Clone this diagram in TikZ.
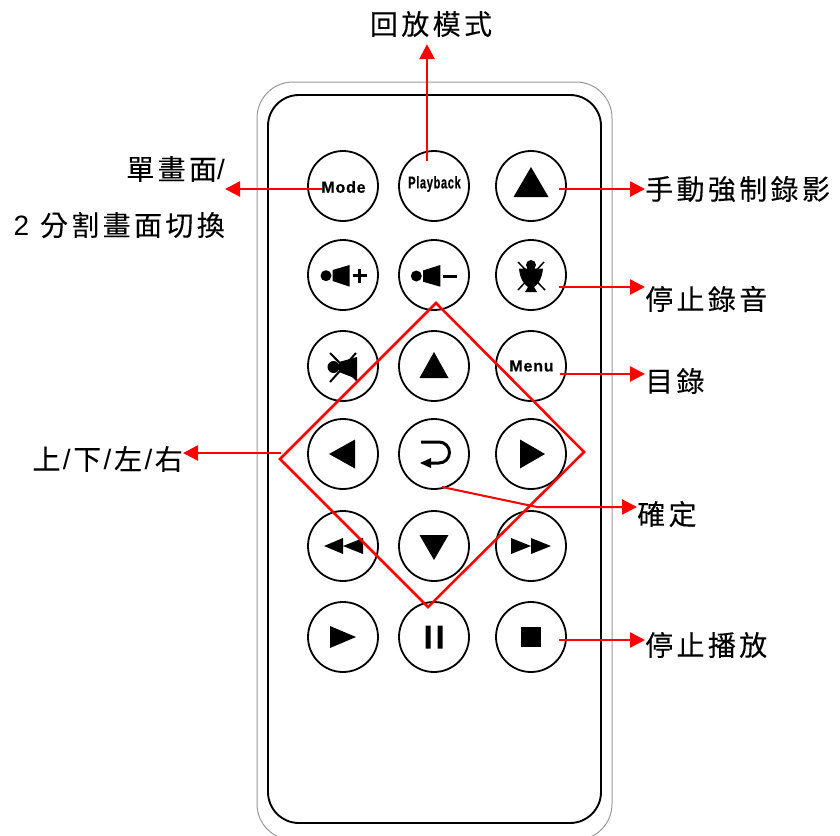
\documentclass[tikz,border=0pt]{standalone}
\usepackage{fontspec}
\setmainfont{Liberation Sans}
\newfontfamily\cjk[LetterSpace=12,FakeBold=0.15]{Noto Sans CJK TC}
\newfontfamily\cjksingle[FakeBold=0.15]{Noto Sans CJK TC}
\newfontfamily\keyfont[LetterSpace=5,FakeBold=0.4]{Liberation Sans Bold}
\usetikzlibrary{arrows.meta}
\newcommand{\dm}{70pt}
\newcommand{\slsh}{\hspace{2.5pt}/\hspace{2.5pt}}

\begin{document}
\begin{tikzpicture}[x=1pt,y=-1pt,
    btn/.style={draw, circle, minimum size=\dm, inner sep=0pt, line width=1.8pt},
    keytxt/.style={inner sep=0pt, font=\fontsize{16}{16}\selectfont\keyfont},
    lbl/.style={inner sep=0pt, font=\fontsize{28}{32}\selectfont},
    redline/.style={draw=red, line width=2.5pt},
    conn/.style={redline, -{Triangle[length=15pt,width=15pt]}},
    icon/.style={fill=black}]
    \useasboundingbox (0,0) rectangle (840,835);

    % Body
    \begin{scope}
        \clip (0,0) rectangle (840,835);
        \draw[gray!80, line width=1pt, rounded corners=36pt] (257,82) rectangle (612,840);
    \end{scope}
    \draw[line width=1.9pt, rounded corners=31pt] (268,95) rectangle (601,823);

    % First row
    \node[btn] (btn-1-1) at (343,186) {};
    \node[btn] (btn-1-2) at (434,186) {};
    \node[btn] (btn-1-3) at (531,186) {};
    % Second row
    \node[btn] (btn-2-1) at (343,275) {};
    \node[btn] (btn-2-2) at (434,275) {};
    \node[btn] (btn-2-3) at (531,275) {};
    % Third row
    \node[btn] (btn-3-1) at (343,366) {};
    \node[btn] (btn-3-2) at (434,366) {};
    \node[btn] (btn-3-3) at (531,366) {};
    % Fourth row
    \node[btn] (btn-4-1) at (343,454) {};
    \node[btn] (btn-4-2) at (434,454) {};
    \node[btn] (btn-4-3) at (531,454) {};
    % Fifth row
    \node[btn] (btn-5-1) at (343,546) {};
    \node[btn] (btn-5-2) at (434,546) {};
    \node[btn] (btn-5-3) at (531,546) {};
    % Sixth row
    \node[btn] (btn-6-1) at (343,637) {};
    \node[btn] (btn-6-2) at (434,637) {};
    \node[btn] (btn-6-3) at (531,637) {};

    % Key texts
    \node[keytxt] (txt-mode) at (343.5,187) {Mode};
    \node[keytxt] (txt-play) at (434.5,184) {\scalebox{0.66}[1]{\fontsize{17}{17}\selectfont Playback}};
    \node[keytxt] (txt-menu) at (531.5,366) {Menu};

    % Triangles
    \fill[icon, shift={(btn-1-3.center)}] (0,-19) -- (17.5,11) -- (-17.5,11) -- cycle;
    \fill[icon, shift={(btn-3-2.center)}] (0,-14) -- (14.5,12) -- (-14.5,12) -- cycle;
    \fill[icon, shift={(btn-4-1.center)}] (-14,0) -- (12,-14.5) -- (12,14.5) -- cycle;
    \fill[icon, shift={(btn-4-3.center)}] (14,0) -- (-11,-14.5) -- (-11,14.5) -- cycle;
    \fill[icon, shift={(btn-5-2.center)}] (0,14) -- (-14.5,-11) -- (14.5,-11) -- cycle;
    \fill[icon, shift={(btn-5-1.center)}] (-19,0) -- (0,-8) -- (0,8) -- cycle (0,0) -- (20,-8) -- (20,8) -- cycle;
    \fill[icon, shift={(btn-5-3.center)}] (0,0) -- (-20,-8) -- (-20,8) -- cycle (20,0) -- (0,-8) -- (0,8) -- cycle;
    \fill[icon, shift={(btn-6-1.center)}] (13,0) -- (-13,-11) -- (-13,11) -- cycle;
    \fill[icon, shift={(btn-6-2.center)}] (-8.5,-11.5) rectangle (-3.5,11.5) (3.5,-11.5) rectangle (8.5,11.5);
    \fill[icon, shift={(btn-6-3.center)}] (-10,-10) rectangle (10,10);

    % Enter key
    \draw[line width=3pt, shift={(btn-4-2.center)}] (-13,-12) -- (5,-12) arc[start angle=-90, end angle=90, radius=10.5] -- (-6,9);
    \fill[icon, shift={(btn-4-2.center)}] (-14,9) -- (-3,4) -- (-3,14) -- cycle;

    % Volume keys
    \fill[icon, shift={(btn-2-1.center)}] (-17,0.7) circle[radius=5.5] (-10.3,-5) -- (6.7,-10) -- (6.7,11.7) -- (-10.3,6) -- cycle;
    \draw[line width=3pt, shift={(btn-2-1.center)}] (9.7,0.7) -- (23.7,0.7) (16.7,-6.3) -- (16.7,7.7);
    \fill[icon, shift={(btn-2-2.center)}] (-17.7,1) circle[radius=5.5] (-11,-4.5) -- (6.3,-10) -- (6.3,11.7) -- (-11,6.7) -- cycle;
    \draw[line width=3pt, shift={(btn-2-2.center)}] (9,1) -- (23,1);

    % Mic off
    \fill[icon, shift={(btn-2-3.center)}] (0,-10) circle[radius=5]
        (-12,-6.5) -- (12,-6.5) .. controls (11,5) and (6,10) .. (3,12) -- (6,17) -- (-6,17) -- (-3,12) .. controls (-6,10) and (-11,5) .. (-12,-6.5) -- cycle;
    \draw[line width=1.5pt, shift={(btn-2-3.center)}] (-13,-13) -- (14,15) (13,-13) -- (-13,15);

    % Speaker off
    \fill[icon, shift={(btn-3-1.center)}] (-9.5,1) circle[radius=6] (-4,-4) -- (14,-9) -- (14,13) -- (-4,6) -- cycle;
    \draw[line width=2pt, shift={(btn-3-1.center)}] (-13,-13) -- (14,14.5) (13,-13) -- (-13,16);

    % Labels
    \node[lbl, anchor=center] (lbl-play) at (431,24) {\cjk 回放模式};
    \node[lbl, anchor=east] (lbl-mode) at (225,169) {{\cjk 單畫面}/};
    \node[lbl, anchor=east] (lbl-split) at (225,225) {2\hspace{3pt} {\cjk 分割畫面切換}};
    \node[lbl, anchor=west] (lbl-rec) at (645,189) {\cjk 手動強制錄影};
    \node[lbl, anchor=west] (lbl-mic) at (645,299) {\cjk 停止錄音};
    \node[lbl, anchor=west] (lbl-menu) at (645,381) {\cjk 目錄};
    \node[lbl, anchor=east] (lbl-dir) at (183,459) {{\cjksingle 上}\slsh{\cjksingle 下}\slsh{\cjksingle 左}\slsh{\cjksingle 右}};
    \node[lbl, anchor=west] (lbl-ok) at (637,514) {\cjk 確定};
    \node[lbl, anchor=west] (lbl-stop) at (645,645) {\cjk 停止播放};

    % Connector start points
    \coordinate (from-play) at (427,161);
    \coordinate (from-mode) at (322,189);
    \coordinate (from-rec) at (559,189);
    \coordinate (from-mic) at (559,287);
    \coordinate (from-menu) at (560,374);
    \coordinate (from-dir) at (281,453);
    \coordinate (from-ok) at (442,487);
    \coordinate (bend-ok) at (537,507);
    \coordinate (from-stop) at (559,640);

    % Connectors
    \draw[conn, shorten >=7pt] (from-play) -- (from-play |- lbl-play.south);
    \draw[conn] (from-mode) -- (from-mode -| lbl-mode.east);
    \draw[conn] (from-rec) -- (from-rec -| lbl-rec.west);
    \draw[conn] (from-mic) -- (from-mic -| lbl-mic.west);
    \draw[conn] (from-menu) -- (from-menu -| lbl-menu.west);
    \draw[conn] (from-dir) -- (from-dir -| lbl-dir.east);
    \draw[conn, line width=2pt] (from-ok) -- (bend-ok) -- (bend-ok -| lbl-ok.west);
    \draw[conn] (from-stop) -- (from-stop -| lbl-stop.west);

    % Diamond
    \coordinate (dia-n) at (436,303);
    \coordinate (dia-e) at (584,452);
    \coordinate (dia-s) at (428,607);
    \coordinate (dia-w) at (280,459);
    \draw[redline, line join=miter] (dia-n) -- (dia-e) -- (dia-s) -- (dia-w) -- cycle;
\end{tikzpicture}
\end{document}
